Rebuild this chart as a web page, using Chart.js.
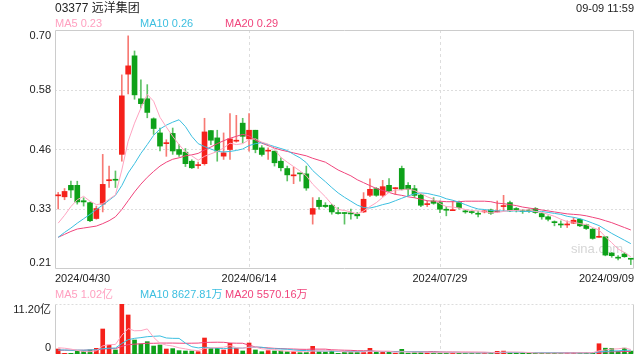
<!DOCTYPE html>
<html>
<head>
<meta charset="utf-8">
<script src="https://cdn.jsdelivr.net/npm/chart.js@4.4.1/dist/chart.umd.min.js"></script>
<style>
  html, body { margin: 0; padding: 0; background: #fff; }
  #wrap { position: relative; width: 640px; height: 360px; overflow: hidden;
          font-family: "Liberation Sans", Arial, "Noto Sans CJK SC", sans-serif; }
  canvas { position: absolute; left: 0; top: 0; }
  .t { position: absolute; white-space: nowrap; line-height: 1; }
</style>
</head>
<body>
<div id="wrap">
  <canvas id="price" width="640" height="360"></canvas>
  <canvas id="vol" width="640" height="360"></canvas>
  <div class="t" style="left:55px;top:2px;font-size:12px;color:#222">03377 远洋集团</div>
  <div class="t" style="right:6px;top:3px;font-size:11px;color:#222">09-09 11:59</div>
  <div class="t" style="left:55px;top:18px;font-size:11px;color:#ffa0c0">MA5 0.23</div>
  <div class="t" style="left:140px;top:18px;font-size:11px;color:#3cbfe0">MA10 0.26</div>
  <div class="t" style="left:225px;top:18px;font-size:11px;color:#f0447c">MA20 0.29</div>
  <div class="t" style="left:55px;top:289px;font-size:11px;color:#ffa0c0">MA5 1.02亿</div>
  <div class="t" style="left:140px;top:289px;font-size:11px;color:#3cbfe0">MA10 8627.81万</div>
  <div class="t" style="left:225px;top:289px;font-size:11px;color:#f0447c">MA20 5570.16万</div>
</div>
<script>
// daily candles 2024/04/30 .. 2024/09/09 (91 trading days)
const opens = [
  0.360, 0.358, 0.3815, 0.3815, 0.350, 0.346, 0.3135, 0.343, 0.391, 0.3925,
  0.445, 0.6095, 0.647, 0.559, 0.559, 0.518, 0.489, 0.467, 0.488, 0.455,
  0.4495, 0.431, 0.422, 0.426, 0.4938, 0.4788, 0.4414, 0.455, 0.472, 0.509,
  0.4768, 0.4945, 0.4584, 0.4516, 0.4516, 0.431, 0.416, 0.401, 0.406, 0.405,
  0.3223, 0.3509, 0.3407, 0.3407, 0.3244, 0.3244, 0.325, 0.3223, 0.327, 0.3611,
  0.3747, 0.3611, 0.3815, 0.3747, 0.4162, 0.3815, 0.3747, 0.3618, 0.342, 0.3495,
  0.3461, 0.3316, 0.3296, 0.3461, 0.3277, 0.3264, 0.3230, 0.3271, 0.3311, 0.3271,
  0.338, 0.3461, 0.334, 0.328, 0.3295, 0.334, 0.3237, 0.317, 0.3055, 0.3008,
  0.3003, 0.304, 0.312, 0.3006, 0.2917, 0.275, 0.2761, 0.2427, 0.2328, 0.2407, 0.231
];
const closes = [
  0.360, 0.369, 0.372, 0.3475, 0.3475, 0.309, 0.334, 0.3835, 0.392, 0.392,
  0.565, 0.6265, 0.567, 0.549, 0.531, 0.498, 0.462, 0.467, 0.452, 0.445,
  0.426, 0.4175, 0.423, 0.491, 0.474, 0.4516, 0.4482, 0.4768, 0.474, 0.482,
  0.4945, 0.455, 0.4448, 0.4516, 0.4278, 0.4176, 0.403, 0.401, 0.405, 0.376,
  0.334, 0.338, 0.338, 0.327, 0.3237, 0.3237, 0.323, 0.319, 0.353, 0.3734,
  0.3611, 0.3788, 0.370, 0.3747, 0.3733, 0.3733, 0.361, 0.3407, 0.343, 0.3447,
  0.3325, 0.3305, 0.3316, 0.3359, 0.3271, 0.3257, 0.3223, 0.3278, 0.3243, 0.3285,
  0.3393, 0.3291, 0.330, 0.3275, 0.3288, 0.3258, 0.317, 0.312, 0.305, 0.3003,
  0.3008, 0.310, 0.2985, 0.293, 0.2727, 0.2761, 0.2386, 0.2373, 0.2322, 0.2352, 0.230
];
const highs = [
  0.367, 0.375, 0.390, 0.390, 0.356, 0.347, 0.339, 0.445, 0.421, 0.411,
  0.608, 0.688, 0.657, 0.598, 0.588, 0.520, 0.499, 0.475, 0.499, 0.465,
  0.457, 0.434, 0.429, 0.519, 0.494, 0.4945, 0.489, 0.5285, 0.525, 0.519,
  0.5285, 0.4945, 0.463, 0.4584, 0.4516, 0.438, 0.421, 0.419, 0.406, 0.421,
  0.3564, 0.3564, 0.346, 0.3427, 0.336, 0.326, 0.3326, 0.3258, 0.3666, 0.395,
  0.377, 0.3918, 0.3952, 0.377, 0.421, 0.387, 0.3815, 0.364, 0.3495, 0.3563,
  0.3495, 0.338, 0.3495, 0.3495, 0.3305, 0.329, 0.329, 0.330, 0.333, 0.3495,
  0.361, 0.3495, 0.336, 0.332, 0.333, 0.336, 0.325, 0.319, 0.3087, 0.3087,
  0.3087, 0.3155, 0.313, 0.302, 0.293, 0.2951, 0.2765, 0.244, 0.2373, 0.244, 0.231
];
const lows = [
  0.333, 0.352, 0.356, 0.343, 0.339, 0.307, 0.312, 0.327, 0.377, 0.377,
  0.431, 0.569, 0.558, 0.540, 0.520, 0.486, 0.452, 0.441, 0.445, 0.441,
  0.420, 0.416, 0.416, 0.423, 0.465, 0.431, 0.4346, 0.4346, 0.470, 0.4686,
  0.4516, 0.4482, 0.4414, 0.4346, 0.421, 0.411, 0.3905, 0.385, 0.390, 0.3713,
  0.302, 0.3326, 0.336, 0.3223, 0.3223, 0.302, 0.3121, 0.3135, 0.3257, 0.3584,
  0.359, 0.358, 0.368, 0.363, 0.372, 0.3597, 0.3563, 0.338, 0.338, 0.3427,
  0.3257, 0.319, 0.3296, 0.3325, 0.3243, 0.323, 0.3168, 0.325, 0.322, 0.326,
  0.329, 0.3277, 0.327, 0.324, 0.326, 0.324, 0.312, 0.3087, 0.2985, 0.295,
  0.295, 0.303, 0.297, 0.291, 0.271, 0.2747, 0.237, 0.234, 0.2284, 0.234, 0.219
];
const ma5 = [
  0.304, 0.320, 0.338, 0.352, 0.359, 0.349, 0.342, 0.344, 0.353, 0.362,
  0.413, 0.472, 0.509, 0.540, 0.568, 0.554, 0.521, 0.501, 0.482, 0.465,
  0.450, 0.442, 0.433, 0.441, 0.446, 0.451, 0.458, 0.468, 0.465, 0.467,
  0.475, 0.477, 0.470, 0.466, 0.455, 0.439, 0.429, 0.420, 0.411, 0.401,
  0.384, 0.371, 0.358, 0.343, 0.332, 0.330, 0.327, 0.323, 0.329, 0.338,
  0.346, 0.357, 0.367, 0.372, 0.372, 0.374, 0.371, 0.365, 0.358, 0.353,
  0.344, 0.338, 0.337, 0.335, 0.332, 0.330, 0.329, 0.328, 0.325, 0.326,
  0.328, 0.330, 0.330, 0.331, 0.331, 0.328, 0.326, 0.322, 0.318, 0.312,
  0.307, 0.306, 0.303, 0.301, 0.295, 0.290, 0.276, 0.264, 0.251, 0.244, 0.235
];
const ma10 = [
  0.275, 0.285, 0.294, 0.304, 0.313, 0.322, 0.332, 0.341, 0.351, 0.361,
  0.381, 0.407, 0.426, 0.447, 0.465, 0.484, 0.497, 0.505, 0.511, 0.516,
  0.502, 0.482, 0.467, 0.461, 0.456, 0.451, 0.450, 0.451, 0.453, 0.456,
  0.463, 0.467, 0.469, 0.465, 0.461, 0.457, 0.453, 0.445, 0.438, 0.428,
  0.412, 0.400, 0.389, 0.377, 0.366, 0.357, 0.349, 0.341, 0.336, 0.335,
  0.338, 0.342, 0.345, 0.350, 0.355, 0.360, 0.364, 0.366, 0.365, 0.362,
  0.359, 0.354, 0.351, 0.347, 0.342, 0.337, 0.333, 0.332, 0.330, 0.329,
  0.329, 0.329, 0.329, 0.328, 0.328, 0.328, 0.328, 0.326, 0.324, 0.322,
  0.318, 0.316, 0.313, 0.309, 0.304, 0.299, 0.291, 0.283, 0.276, 0.269, 0.262
];
const ma20 = [
  0.275, 0.281, 0.287, 0.292, 0.294, 0.296, 0.298, 0.303, 0.309, 0.317,
  0.332, 0.350, 0.368, 0.384, 0.398, 0.410, 0.421, 0.429, 0.435, 0.438,
  0.442, 0.444, 0.447, 0.454, 0.460, 0.467, 0.473, 0.478, 0.482, 0.486,
  0.483, 0.474, 0.468, 0.463, 0.458, 0.454, 0.451, 0.448, 0.445, 0.442,
  0.437, 0.433, 0.429, 0.421, 0.413, 0.407, 0.401, 0.393, 0.387, 0.381,
  0.375, 0.371, 0.367, 0.363, 0.361, 0.358, 0.356, 0.353, 0.350, 0.349,
  0.349, 0.348, 0.348, 0.348, 0.349, 0.349, 0.349, 0.349, 0.348, 0.345,
  0.344, 0.342, 0.340, 0.337, 0.335, 0.333, 0.331, 0.329, 0.327, 0.325,
  0.323, 0.322, 0.321, 0.319, 0.316, 0.313, 0.309, 0.305, 0.300, 0.295, 0.290
];

// volume in 亿 shares
const volumes = [
  1.12, 0.15, 0.15, 0.67, 0.67, 0.90, 1.27, 5.60, 2.00, 0.90,
  11.20, 8.74, 3.14, 2.24, 2.76, 1.79, 2.02, 1.12, 1.20, 0.75,
  0.67, 0.67, 0.52, 3.58, 1.27, 1.27, 0.90, 2.39, 1.27, 0.67,
  2.46, 0.90, 0.52, 0.75, 0.67, 0.67, 0.52, 0.52, 0.30, 0.35,
  1.72, 0.52, 0.45, 0.75, 0.15, 0.45, 0.45, 0.45, 0.45, 1.27,
  0.45, 0.40, 0.45, 0.15, 1.05, 0.20, 0.30, 0.35, 0.25, 0.30,
  0.30, 0.25, 0.30, 0.35, 0.20, 0.25, 0.20, 0.30, 0.35, 0.60,
  0.65, 0.30, 0.25, 0.20, 0.25, 0.20, 0.25, 0.20, 0.25, 0.20,
  0.25, 0.30, 0.30, 0.30, 0.33, 2.30, 1.30, 1.25, 0.60, 1.30, 0.65
];
const volMa5 = [
  1.40, 1.30, 1.10, 0.80, 0.55, 0.51, 0.73, 1.82, 2.09, 2.13,
  4.19, 5.69, 5.20, 5.24, 5.62, 3.73, 2.39, 1.99, 1.78, 1.38,
  1.15, 0.88, 0.76, 1.24, 1.34, 1.46, 1.51, 1.88, 1.42, 1.30,
  1.54, 1.54, 1.16, 1.06, 1.06, 0.70, 0.63, 0.63, 0.54, 0.47,
  0.68, 0.68, 0.67, 0.76, 0.72, 0.46, 0.45, 0.45, 0.45, 0.61,
  0.61, 0.60, 0.60, 0.38, 0.50, 0.45, 0.43, 0.41, 0.43, 0.28,
  0.30, 0.29, 0.28, 0.30, 0.28, 0.27, 0.26, 0.26, 0.26, 0.34,
  0.42, 0.44, 0.43, 0.40, 0.33, 0.24, 0.23, 0.22, 0.23, 0.22,
  0.23, 0.24, 0.26, 0.27, 0.30, 0.71, 0.91, 1.10, 1.16, 1.35, 1.02
];
const volMa10 = [
  0.90, 0.90, 0.85, 0.85, 0.85, 0.90, 0.95, 1.20, 1.30, 1.34,
  2.35, 3.21, 3.51, 3.67, 3.88, 3.96, 4.04, 3.59, 3.51, 3.50,
  2.44, 1.64, 1.37, 1.51, 1.36, 1.31, 1.20, 1.32, 1.33, 1.32,
  1.50, 1.52, 1.52, 1.24, 1.18, 1.12, 1.08, 0.90, 0.80, 0.77,
  0.69, 0.65, 0.65, 0.65, 0.60, 0.57, 0.57, 0.56, 0.56, 0.66,
  0.54, 0.53, 0.53, 0.47, 0.56, 0.53, 0.52, 0.51, 0.41, 0.39,
  0.38, 0.36, 0.35, 0.37, 0.28, 0.29, 0.28, 0.27, 0.28, 0.31,
  0.35, 0.35, 0.35, 0.33, 0.34, 0.33, 0.34, 0.33, 0.32, 0.28,
  0.24, 0.24, 0.24, 0.25, 0.26, 0.47, 0.57, 0.68, 0.71, 0.82, 0.86
];
const volMa20 = [
  0.85, 0.85, 0.85, 0.85, 0.85, 0.90, 0.90, 1.10, 1.20, 1.20,
  1.70, 2.10, 2.20, 2.30, 2.40, 2.40, 2.45, 2.45, 2.45, 2.42,
  2.40, 2.42, 2.44, 2.59, 2.62, 2.64, 2.62, 2.46, 2.42, 2.41,
  1.97, 1.58, 1.45, 1.37, 1.27, 1.21, 1.14, 1.11, 1.06, 1.04,
  1.10, 1.09, 1.09, 0.94, 0.89, 0.85, 0.82, 0.73, 0.73, 0.72,
  0.62, 0.59, 0.59, 0.56, 0.58, 0.55, 0.54, 0.53, 0.53, 0.53,
  0.46, 0.44, 0.44, 0.42, 0.42, 0.41, 0.40, 0.39, 0.34, 0.35,
  0.36, 0.36, 0.35, 0.35, 0.31, 0.31, 0.31, 0.30, 0.30, 0.29,
  0.29, 0.29, 0.29, 0.29, 0.30, 0.40, 0.45, 0.50, 0.51, 0.55, 0.56
];

const xTickIndex = [0, 30, 60, 90];
const xTickLabels = ['2024/04/30', '2024/06/14', '2024/07/29', '2024/09/09'];
const priceTicks = [0.21, 0.3325, 0.455, 0.5775, 0.70];
const priceTickLabels = ['0.21', '0.33', '0.46', '0.58', '0.70'];
const volTicks = [0, 11.2];
const volTickLabels = ['0', '11.20亿'];

const UP = '#f5211b', DOWN = '#0ea119';
const UP_WICK = '#f77a74', DOWN_WICK = '#5cc264';
const C_MA5 = '#ffa3c0', C_MA10 = '#3cbfe0', C_MA20 = '#f0447c';
const FONT = '"Liberation Sans", Arial, "Noto Sans CJK SC", sans-serif';

const idx = closes.map((_, i) => i);
const isUp = i => closes[i] >= opens[i];
const pts = arr => arr.map((v, i) => ({ x: i, y: v }));

function maLine(data, color) {
  return { type: 'line', data: pts(data), borderColor: color, borderWidth: 1,
           pointRadius: 0, tension: 0, order: 0 };
}

function line(ctx, x1, y1, x2, y2) {
  ctx.beginPath(); ctx.moveTo(x1, y1); ctx.lineTo(x2, y2); ctx.stroke();
}

// grid, frame and axis text for one panel
function panelPlugin(cfg) {
  return {
    id: cfg.id,
    beforeDatasetsDraw(chart) {
      const { ctx, chartArea: a, scales: { x, y } } = chart;
      ctx.save();
      if (cfg.watermark) {
        ctx.font = '13px ' + FONT;
        ctx.fillStyle = '#d6d6d6';
        ctx.textAlign = 'right';
        ctx.textBaseline = 'middle';
        ctx.fillText('sina.com', a.right - 11, a.bottom - 20);
      }
      ctx.lineWidth = 1;
      ctx.strokeStyle = '#dddddd';
      ctx.setLineDash([2, 2]);
      cfg.grid.forEach(v => {
        const py = Math.round(y.getPixelForValue(v)) + 0.5;
        line(ctx, a.left, py, a.right, py);
      });
      ctx.setLineDash([3, 3]);
      xTickIndex.slice(1, -1).forEach(i => {
        const px = Math.round(x.getPixelForValue(i)) + 0.5;
        line(ctx, px, a.top, px, a.bottom);
      });
      ctx.setLineDash([]);
      ctx.strokeStyle = '#cccccc';
      const l = a.left + 0.5, r = a.right - 0.5, t = a.top + 0.5, b = a.bottom - 0.5;
      line(ctx, l, t, l, b);
      line(ctx, r, t, r, b);
      line(ctx, l, b, r, b);
      if (cfg.dottedTop) {
        ctx.strokeStyle = '#dddddd';
        ctx.setLineDash([2, 2]);
      }
      line(ctx, l, t, r, t);
      ctx.restore();
    },
    afterDraw(chart) {
      const { ctx, chartArea: a, scales: { x, y } } = chart;
      ctx.save();
      ctx.font = '11px ' + FONT;
      ctx.fillStyle = '#222';
      ctx.textBaseline = 'middle';
      ctx.textAlign = 'right';
      const n = cfg.ticks.length;
      cfg.ticks.forEach((v, k) => {
        let py = y.getPixelForValue(v);
        if (k === 0) py -= 6;
        if (k === n - 1) py += 6;
        ctx.fillText(cfg.tickLabels[k], a.left - 4, py);
      });
      if (cfg.dates) {
        xTickIndex.forEach((i, k) => {
          let px = x.getPixelForValue(i);
          ctx.textAlign = 'center';
          if (k === 0) { ctx.textAlign = 'left'; px = a.left; }
          if (k === xTickIndex.length - 1) { ctx.textAlign = 'right'; px = a.right; }
          ctx.fillText(xTickLabels[k], px, a.bottom + 10);
        });
      }
      ctx.restore();
    }
  };
}

const baseOptions = (pad, yMin, yMax) => ({
  responsive: false,
  animation: false,
  layout: { padding: pad },
  plugins: { legend: { display: false }, tooltip: { enabled: false } },
  scales: {
    x: { type: 'linear', min: -0.5, max: 90.5, offset: false, display: false },
    y: { type: 'linear', min: yMin, max: yMax, display: false }
  }
});

new Chart(document.getElementById('price'), {
  type: 'bar',
  data: {
    datasets: [
      maLine(ma5, C_MA5),
      maLine(ma10, C_MA10),
      maLine(ma20, C_MA20),
      {
        data: idx.map(i => ({ x: i, y: [opens[i], closes[i]] })),
        backgroundColor: idx.map(i => isUp(i) ? UP : DOWN),
        barThickness: 5, minBarLength: 1, grouped: false, borderWidth: 0, order: 1
      },
      {
        data: idx.map(i => ({ x: i, y: [lows[i], highs[i]] })),
        backgroundColor: idx.map(i => isUp(i) ? UP_WICK : DOWN_WICK),
        barThickness: 1, minBarLength: 1, grouped: false, borderWidth: 0, order: 2
      }
    ]
  },
  options: baseOptions({ left: 55, right: 6, top: 30, bottom: 91 }, 0.21, 0.70),
  plugins: [panelPlugin({ id: 'pricePanel', grid: priceTicks.slice(1, -1),
    ticks: priceTicks, tickLabels: priceTickLabels, dates: true, watermark: true })]
});

new Chart(document.getElementById('vol'), {
  type: 'bar',
  data: {
    datasets: [
      maLine(volMa5, C_MA5),
      maLine(volMa10, C_MA10),
      maLine(volMa20, C_MA20),
      {
        data: pts(volumes),
        backgroundColor: idx.map(i => isUp(i) ? UP : DOWN),
        barThickness: 4, grouped: false, borderWidth: 0, order: 1
      }
    ]
  },
  options: baseOptions({ left: 55, right: 6, top: 304, bottom: 6 }, 0, 11.2),
  plugins: [panelPlugin({ id: 'volPanel', grid: [], dottedTop: true,
    ticks: volTicks, tickLabels: volTickLabels })]
});
</script>
</body>
</html>
